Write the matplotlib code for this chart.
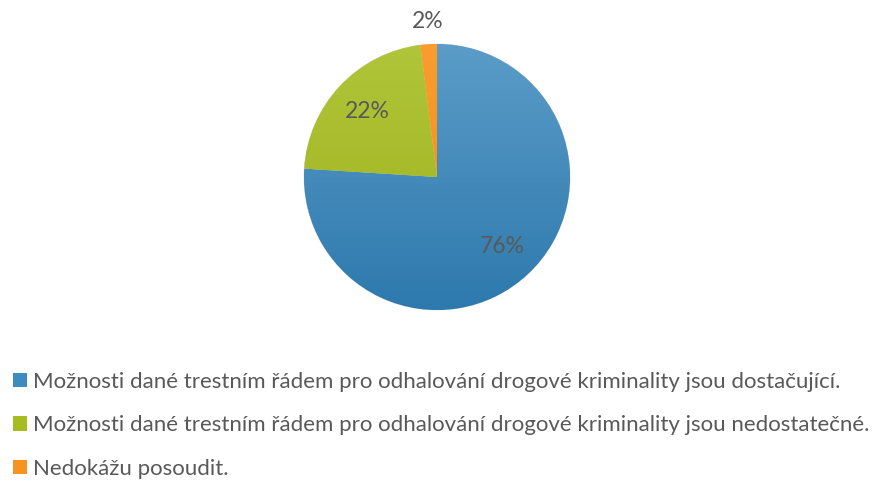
import numpy as np
import matplotlib
matplotlib.use("Agg")
from matplotlib import pyplot as plt
from matplotlib.colors import LinearSegmentedColormap
from matplotlib.patches import Patch

plt.rcParams['font.family'] = ['Lato', 'DejaVu Sans']

labels = [
    "Možnosti dané trestním řádem pro odhalování drogové kriminality jsou dostačující.",
    "Možnosti dané trestním řádem pro odhalování drogové kriminality jsou nedostatečné.",
    "Nedokážu posoudit.",
]
values = [76, 22, 2]
colors = ["#3D8BBF", "#A6BD22", "#F7941F"]
light = ["#5B9CC8", "#B1C53A", "#FA9D2E"]
dark = ["#2D79AD", "#9CB01A", "#F08A12"]
text_col = "#595959"

W, H = 872, 484
fig = plt.figure(figsize=(W / 100, H / 100), dpi=100)
ax = fig.add_axes([0, 0, 1, 1])

cx, cy, r = 437, H - 177, 133
wedges, texts, autotexts = ax.pie(
    values, colors=colors, startangle=90, counterclock=False,
    center=(cx, cy), radius=r, autopct="%d%%", pctdistance=0.72,
    wedgeprops=dict(linewidth=0.5, edgecolor="#dddddd"),
    textprops=dict(color=text_col, fontsize=16.5), frame=True)
ax.set_xlim(0, W)
ax.set_ylim(0, H)
ax.axis("off")

# vertical gradient inside each slice
grad = np.linspace(0, 1, 256).reshape(-1, 1)
for w, lc, dc in zip(wedges, light, dark):
    cmap = LinearSegmentedColormap.from_list("g", [dc, lc])
    im = ax.imshow(grad, cmap=cmap, origin="lower", aspect="auto",
                   extent=[cx - r, cx + r, cy - r, cy + r], zorder=w.get_zorder() + 0.1)
    im.set_clip_path(w)

for t in autotexts:
    t.set_zorder(5)

# small slice label sits outside the pie
ang = np.deg2rad(90 - 360 * (values[0] + values[1] + values[2] / 2) / sum(values))
autotexts[2].set_position((cx + 1.17 * r * np.cos(ang), cy + 1.17 * r * np.sin(ang)))

handles = [Patch(facecolor=c, edgecolor="none") for c in colors]
leg = fig.legend(handles, labels, loc="upper left", bbox_to_anchor=(0.005, 1 - 363 / H),
                 frameon=False, fontsize=16.05, labelcolor=text_col,
                 handlelength=0.6, handleheight=0.6, handletextpad=0.3,
                 labelspacing=1.05, borderaxespad=0)

fig.savefig("out.png", dpi=100)
